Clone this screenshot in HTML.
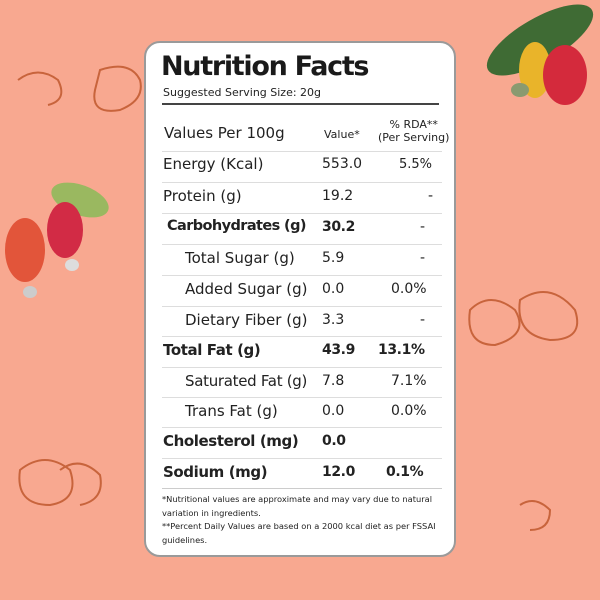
<!DOCTYPE html>
<html><head><style>
body{margin:0;width:600px;height:600px;background:#f8a890;position:relative;overflow:hidden;font-family:"DejaVu Sans","Liberation Sans",sans-serif;color:#222}
.card{position:absolute;left:144px;top:41px;width:312px;height:516px;background:#fff;border:2px solid #9a9a9a;border-radius:16px;box-sizing:border-box}
.t{position:absolute;white-space:nowrap}
.l{font-size:15px}
.b{font-weight:bold;letter-spacing:-0.4px}
.line{position:absolute;left:162px;width:280px;height:1px;background:#ddd}
</style></head><body>
<svg width="600" height="600" style="position:absolute;left:0;top:0">
<g fill="none" stroke="#c8643c" stroke-width="2">
<path d="M100 70 q30-10 40 10 q5 20-20 30 q-30 5-25-20z"/>
<path d="M18 80 q20-15 40 0 q10 20-10 25"/>
<path d="M470 310 q20-20 45 0 q15 25-20 35 q-30 0-25-35z"/>
<path d="M520 300 q30-20 55 10 q10 30-25 30 q-35-5-30-40z"/>
<path d="M20 470 q25-20 50 0 q10 30-20 35 q-35 0-30-35z"/>
<path d="M60 470 q20-15 40 5 q5 25-20 30"/>
<path d="M520 505 q15-10 30 5 q0 20-20 20"/>
</g>
<ellipse cx="540" cy="40" rx="60" ry="22" fill="#3f6b34" transform="rotate(-30 540 40)"/>
<ellipse cx="535" cy="70" rx="16" ry="28" fill="#e9b42a"/>
<ellipse cx="565" cy="75" rx="22" ry="30" fill="#d42a3c"/>
<ellipse cx="520" cy="90" rx="9" ry="7" fill="#8a9a70"/>
<ellipse cx="80" cy="200" rx="30" ry="15" fill="#9ab860" transform="rotate(20 80 200)"/>
<ellipse cx="25" cy="250" rx="20" ry="32" fill="#e2553a"/>
<ellipse cx="65" cy="230" rx="18" ry="28" fill="#d22b45"/>
<ellipse cx="72" cy="265" rx="7" ry="6" fill="#ddd"/>
<ellipse cx="30" cy="292" rx="7" ry="6" fill="#ccc"/>
</svg>
<div class="card"></div>
<div class="t" style="left:161px;top:51px;font-size:27px;font-weight:bold;color:#1a1a1a;letter-spacing:-1.3px">Nutrition Facts</div>
<div class="t" style="left:163px;top:86px;font-size:11px">Suggested Serving Size: 20g</div>
<div style="position:absolute;left:162px;top:103px;width:277px;height:2px;background:#444"></div>
<div class="t" style="left:164px;top:124px;font-size:15px">Values Per 100g</div>
<div class="t" style="left:324px;top:128px;font-size:11px">Value*</div>
<div class="t" style="left:378px;top:118px;font-size:11px;text-align:center;line-height:13px">% RDA**<br>(Per Serving)</div>
<div class="line" style="top:151px"></div>
<div class="line" style="top:182px"></div>
<div class="line" style="top:213px"></div>
<div class="line" style="top:244px"></div>
<div class="line" style="top:275px"></div>
<div class="line" style="top:306px"></div>
<div class="line" style="top:336px"></div>
<div class="line" style="top:367px"></div>
<div class="line" style="top:397px"></div>
<div class="line" style="top:427px"></div>
<div class="line" style="top:458px"></div>
<div style="position:absolute;left:162px;top:488px;width:280px;height:1px;background:#ccc"></div>
<div style="font-size:14px">
<div class="t l" style="left:163px;top:155px">Energy (Kcal)</div><div class="t" style="left:322px;top:156px">553.0</div><div class="t" style="left:399px;top:157px;font-size:13px">5.5%</div>
<div class="t l" style="left:163px;top:187px">Protein (g)</div><div class="t" style="left:322px;top:188px">19.2</div><div class="t" style="left:428px;top:188px">-</div>
<div class="t l b" style="left:167px;top:218px;font-size:14.5px;letter-spacing:-0.6px">Carbohydrates (g)</div><div class="t b" style="left:322px;top:219px">30.2</div><div class="t" style="left:420px;top:219px">-</div>
<div class="t l" style="left:185px;top:249px">Total Sugar (g)</div><div class="t" style="left:322px;top:250px">5.9</div><div class="t" style="left:420px;top:250px">-</div>
<div class="t l" style="left:185px;top:280px">Added Sugar (g)</div><div class="t" style="left:322px;top:281px">0.0</div><div class="t" style="left:391px;top:281px">0.0%</div>
<div class="t l" style="left:185px;top:311px">Dietary Fiber (g)</div><div class="t" style="left:322px;top:312px">3.3</div><div class="t" style="left:420px;top:312px">-</div>
<div class="t l b" style="left:163px;top:341px">Total Fat (g)</div><div class="t b" style="left:322px;top:342px">43.9</div><div class="t b" style="left:378px;top:342px">13.1%</div>
<div class="t l" style="left:185px;top:372px;letter-spacing:-0.3px">Saturated Fat (g)</div><div class="t" style="left:322px;top:373px">7.8</div><div class="t" style="left:391px;top:373px">7.1%</div>
<div class="t l" style="left:185px;top:402px">Trans Fat (g)</div><div class="t" style="left:322px;top:403px">0.0</div><div class="t" style="left:391px;top:403px">0.0%</div>
<div class="t l b" style="left:163px;top:432px">Cholesterol (mg)</div><div class="t b" style="left:322px;top:433px">0.0</div>
<div class="t l b" style="left:163px;top:463px">Sodium (mg)</div><div class="t b" style="left:322px;top:464px">12.0</div><div class="t b" style="left:386px;top:464px">0.1%</div>
</div>
<div style="position:absolute;left:162px;top:493px;width:285px;font-size:8.3px;line-height:13.5px">*Nutritional values are approximate and may vary due to natural variation in ingredients.<br>**Percent Daily Values are based on a 2000 kcal diet as per FSSAI guidelines.</div>
</body></html>
